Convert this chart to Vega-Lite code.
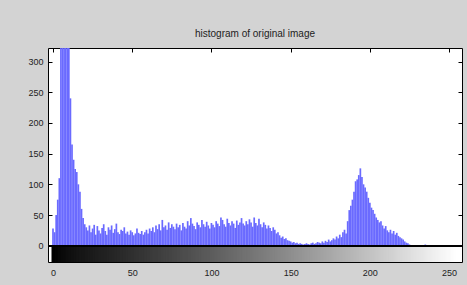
{
  "$schema": "https://vega.github.io/schema/vega-lite/v6.json",
  "width": 414,
  "height": 214,
  "autosize": {"type": "none"},
  "padding": {"left": 48, "top": 48, "right": 5, "bottom": 23},
  "background": "#d3d3d3",
  "title": {"text": "histogram of original image", "font": "Liberation Sans", "fontSize": 10, "fontWeight": "normal", "color": "#222222", "offset": 9, "anchor": "middle"},
  "config": {
    "view": {"fill": "white", "stroke": "black", "strokeWidth": 1},
    "axis": {"labelFont": "Liberation Sans", "labelFontSize": 9, "labelColor": "#222222", "domainColor": "black", "tickColor": "black", "grid": false, "title": null, "tickSize": -4}
  },
  "data": {"values": [
    {"v":0,"count":28},{"v":1,"count":22},{"v":2,"count":50},{"v":3,"count":75},{"v":4,"count":110},{"v":5,"count":340},{"v":6,"count":700},{"v":7,"count":1000},{"v":8,"count":900},{"v":9,"count":700},
    {"v":10,"count":420},{"v":11,"count":240},{"v":12,"count":165},{"v":13,"count":140},{"v":14,"count":125},{"v":15,"count":120},{"v":16,"count":100},{"v":17,"count":88},{"v":18,"count":60},{"v":19,"count":45},
    {"v":20,"count":35},{"v":21,"count":30},{"v":22,"count":25},{"v":23,"count":33},{"v":24,"count":22},{"v":25,"count":28},{"v":26,"count":34},{"v":27,"count":18},{"v":28,"count":32},{"v":29,"count":25},
    {"v":30,"count":20},{"v":31,"count":29},{"v":32,"count":35},{"v":33,"count":24},{"v":34,"count":18},{"v":35,"count":30},{"v":36,"count":26},{"v":37,"count":33},{"v":38,"count":21},{"v":39,"count":27},
    {"v":40,"count":36},{"v":41,"count":22},{"v":42,"count":19},{"v":43,"count":26},{"v":44,"count":24},{"v":45,"count":30},{"v":46,"count":20},{"v":47,"count":23},{"v":48,"count":18},{"v":49,"count":25},
    {"v":50,"count":22},{"v":51,"count":17},{"v":52,"count":20},{"v":53,"count":28},{"v":54,"count":21},{"v":55,"count":19},{"v":56,"count":24},{"v":57,"count":18},{"v":58,"count":22},{"v":59,"count":26},
    {"v":60,"count":20},{"v":61,"count":28},{"v":62,"count":24},{"v":63,"count":30},{"v":64,"count":22},{"v":65,"count":33},{"v":66,"count":27},{"v":67,"count":35},{"v":68,"count":25},{"v":69,"count":42},
    {"v":70,"count":30},{"v":71,"count":33},{"v":72,"count":26},{"v":73,"count":38},{"v":74,"count":29},{"v":75,"count":35},{"v":76,"count":31},{"v":77,"count":27},{"v":78,"count":36},{"v":79,"count":30},
    {"v":80,"count":34},{"v":81,"count":25},{"v":82,"count":37},{"v":83,"count":31},{"v":84,"count":28},{"v":85,"count":40},{"v":86,"count":33},{"v":87,"count":45},{"v":88,"count":36},{"v":89,"count":32},
    {"v":90,"count":27},{"v":91,"count":38},{"v":92,"count":34},{"v":93,"count":30},{"v":94,"count":42},{"v":95,"count":35},{"v":96,"count":31},{"v":97,"count":39},{"v":98,"count":33},{"v":99,"count":28},
    {"v":100,"count":37},{"v":101,"count":34},{"v":102,"count":30},{"v":103,"count":40},{"v":104,"count":36},{"v":105,"count":32},{"v":106,"count":46},{"v":107,"count":42},{"v":108,"count":35},{"v":109,"count":31},
    {"v":110,"count":44},{"v":111,"count":37},{"v":112,"count":33},{"v":113,"count":40},{"v":114,"count":36},{"v":115,"count":29},{"v":116,"count":41},{"v":117,"count":34},{"v":118,"count":38},{"v":119,"count":45},
    {"v":120,"count":36},{"v":121,"count":33},{"v":122,"count":40},{"v":123,"count":35},{"v":124,"count":43},{"v":125,"count":38},{"v":126,"count":31},{"v":127,"count":46},{"v":128,"count":37},{"v":129,"count":33},
    {"v":130,"count":44},{"v":131,"count":35},{"v":132,"count":30},{"v":133,"count":38},{"v":134,"count":34},{"v":135,"count":28},{"v":136,"count":33},{"v":137,"count":29},{"v":138,"count":24},{"v":139,"count":30},
    {"v":140,"count":26},{"v":141,"count":20},{"v":142,"count":22},{"v":143,"count":17},{"v":144,"count":13},{"v":145,"count":15},{"v":146,"count":11},{"v":147,"count":12},{"v":148,"count":9},{"v":149,"count":8},
    {"v":150,"count":7},{"v":151,"count":5},{"v":152,"count":6},{"v":153,"count":4},{"v":154,"count":5},{"v":155,"count":3},{"v":156,"count":4},{"v":157,"count":3},{"v":158,"count":2},{"v":159,"count":3},
    {"v":160,"count":4},{"v":161,"count":3},{"v":162,"count":2},{"v":163,"count":4},{"v":164,"count":5},{"v":165,"count":3},{"v":166,"count":4},{"v":167,"count":6},{"v":168,"count":5},{"v":169,"count":4},
    {"v":170,"count":7},{"v":171,"count":5},{"v":172,"count":8},{"v":173,"count":6},{"v":174,"count":10},{"v":175,"count":7},{"v":176,"count":9},{"v":177,"count":12},{"v":178,"count":10},{"v":179,"count":15},
    {"v":180,"count":12},{"v":181,"count":18},{"v":182,"count":14},{"v":183,"count":22},{"v":184,"count":26},{"v":185,"count":20},{"v":186,"count":40},{"v":187,"count":58},{"v":188,"count":65},{"v":189,"count":75},
    {"v":190,"count":88},{"v":191,"count":105},{"v":192,"count":108},{"v":193,"count":115},{"v":194,"count":126},{"v":195,"count":112},{"v":196,"count":100},{"v":197,"count":95},{"v":198,"count":88},{"v":199,"count":78},
    {"v":200,"count":70},{"v":201,"count":62},{"v":202,"count":58},{"v":203,"count":52},{"v":204,"count":46},{"v":205,"count":42},{"v":206,"count":38},{"v":207,"count":40},{"v":208,"count":33},{"v":209,"count":28},
    {"v":210,"count":32},{"v":211,"count":25},{"v":212,"count":22},{"v":213,"count":26},{"v":214,"count":20},{"v":215,"count":24},{"v":216,"count":18},{"v":217,"count":21},{"v":218,"count":16},{"v":219,"count":14},
    {"v":220,"count":12},{"v":221,"count":10},{"v":222,"count":7},{"v":223,"count":5},{"v":224,"count":4},{"v":225,"count":2},{"v":226,"count":1},{"v":227,"count":1},{"v":228,"count":0},{"v":229,"count":0},
    {"v":230,"count":0},{"v":231,"count":0},{"v":232,"count":0},{"v":233,"count":0},{"v":234,"count":0},{"v":235,"count":2},{"v":236,"count":0},{"v":237,"count":0},{"v":238,"count":0},{"v":239,"count":0},
    {"v":240,"count":0},{"v":241,"count":0},{"v":242,"count":0},{"v":243,"count":0},{"v":244,"count":0},{"v":245,"count":0},{"v":246,"count":0},{"v":247,"count":0},{"v":248,"count":0},{"v":249,"count":0},
    {"v":250,"count":0},{"v":251,"count":0},{"v":252,"count":0},{"v":253,"count":0},{"v":254,"count":0},{"v":255,"count":0}
  ]},
  "layer": [
    {
      "mark": {"type": "bar", "width": 3, "clip": true},
      "encoding": {
        "x": {"field": "v", "type": "quantitative", "scale": {"domain": [0, 255], "nice": false, "zero": false}, "axis": {"values": [0, 50, 100, 150, 200, 250], "orient": "bottom", "labelPadding": 10, "domain": false}},
        "y": {"datum": -26.5, "type": "quantitative", "scale": {"domain": [-26.5, 322], "nice": false, "zero": false}, "axis": {"values": [0, 50, 100, 150, 200, 250, 300], "orient": "left", "labelPadding": 9, "domain": false}},
        "y2": {"datum": 0},
        "color": {"field": "v", "type": "quantitative", "scale": {"domain": [0, 255], "range": ["#000000", "#ffffff"]}, "legend": null}
      }
    },
    {
      "mark": {"type": "bar", "width": 1.7, "color": "#6a6aff", "clip": true},
      "encoding": {
        "x": {"field": "v", "type": "quantitative", "axis": {"values": [0, 50, 100, 150, 200, 250], "orient": "top", "labels": false, "domain": false}},
        "y": {"field": "count", "type": "quantitative", "axis": {"values": [0, 50, 100, 150, 200, 250, 300], "orient": "right", "labels": false, "domain": false}}
      }
    },
    {
      "mark": {"type": "rule", "color": "black", "strokeWidth": 1},
      "encoding": {"y": {"datum": 0, "axis": null}}
    }
  ],
  "resolve": {"axis": {"x": "independent", "y": "independent"}}
}
